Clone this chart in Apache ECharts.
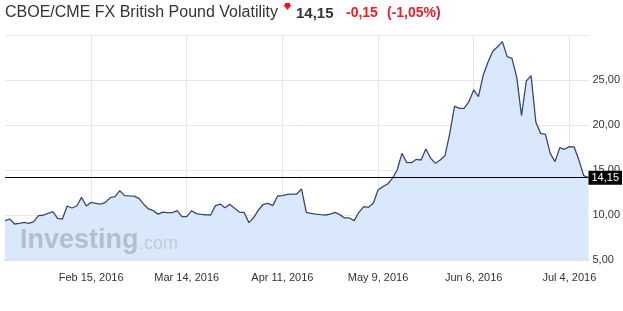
<!DOCTYPE html>
<html><head><meta charset="utf-8">
<script src="https://cdn.jsdelivr.net/npm/echarts@6/dist/echarts.min.js"></script>
<style>html,body{margin:0;padding:0;background:#fff}#c{width:623px;height:311px}</style>
</head><body><div id="c"></div>
<script>
const startDate = '2016-01-20';
const endDate = '2016-07-08';
const tickLabels = ['Feb 15, 2016','Mar 14, 2016','Apr 11, 2016','May 9, 2016','Jun 6, 2016','Jul 4, 2016'];
const values = [
  9.37, 9.55, 9.0, 9.07, 9.18, 9.07, 9.26, 9.93, 9.97, 10.19,
  10.37, 9.63, 9.55, 11.0, 10.78, 11.0, 11.96, 11.0, 11.4, 11.3,
  11.2, 11.4, 11.92, 12.04, 12.7, 12.15, 12.12, 12.1, 11.85, 11.2,
  10.67, 10.48, 10.1, 10.33, 10.26, 10.26, 10.48, 9.81, 9.81, 10.48,
  10.15, 10.07, 10.03, 10.0, 11.04, 11.22, 10.81, 11.19, 10.74, 10.33,
  10.28, 9.15, 9.7, 10.56, 11.19, 11.3, 11.04, 12.11, 12.15, 12.3,
  12.33, 12.33, 12.89, 10.3, 10.19, 10.1, 10.04, 10.0, 10.1, 10.3,
  10.04, 9.67, 9.67, 9.37, 10.3, 10.93, 10.85, 11.3, 12.78, 13.15,
  13.44, 14.07, 15.0, 16.85, 15.81, 15.81, 16.19, 16.11, 17.33, 16.3,
  15.74, 16.11, 16.59, 19.07, 22.1, 21.85, 21.85, 22.59, 23.9, 23.15,
  25.56, 27.0, 28.2, 28.7, 29.26, 27.6, 27.4, 25.3, 21.04, 24.89,
  25.48, 20.3, 19.07, 18.95, 16.85, 15.93, 17.48, 17.3, 17.59, 17.56,
  16.11, 14.37, 14.15
];
const lastValue = 14.15;
const change = '-0,15';
const changePct = '(-1,05%)';
const titleText = 'CBOE/CME FX British Pound Volatility';
const yMin = 5, yMax = 30, yStep = 5;

const MONTHS = ['Jan','Feb','Mar','Apr','May','Jun','Jul','Aug','Sep','Oct','Nov','Dec'];
function weekdays(s, e) {
  const out = [];
  const d = new Date(s + 'T00:00:00Z');
  const end = new Date(e + 'T00:00:00Z');
  while (d <= end) {
    const wd = d.getUTCDay();
    if (wd !== 0 && wd !== 6) out.push(MONTHS[d.getUTCMonth()] + ' ' + d.getUTCDate() + ', ' + d.getUTCFullYear());
    d.setUTCDate(d.getUTCDate() + 1);
  }
  return out;
}
const categories = weekdays(startDate, endDate);
const fmt = v => v.toFixed(2).replace('.', ',');
const showTick = (i, v) => tickLabels.indexOf(v) >= 0;
const FONT = '"Liberation Sans", Arial, sans-serif';

const chart = echarts.init(document.getElementById('c'), null, {renderer: 'canvas'});
chart.setOption({
  animation: false,
  backgroundColor: '#fff',
  textStyle: {fontFamily: FONT},
  grid: {left: 5, right: 34, top: 35, bottom: 51, containLabel: false},
  xAxis: {
    type: 'category', data: categories, boundaryGap: false,
    axisTick: {show: false},
    axisLine: {show: true, lineStyle: {color: '#dfe3e8', width: 2}},
    axisLabel: {interval: showTick, color: '#333', fontSize: 11, margin: 12, fontFamily: FONT},
    splitLine: {show: true, interval: showTick, lineStyle: {color: '#e6e6e6', width: 1}}
  },
  yAxis: {
    type: 'value', position: 'right', min: yMin, max: yMax, interval: yStep,
    axisLine: {show: false}, axisTick: {show: false},
    axisLabel: {formatter: v => (v === yMax ? '' : fmt(v)), color: '#333', fontSize: 11, margin: 4, fontFamily: FONT},
    splitLine: {show: true, lineStyle: {color: '#e6e6e6', width: 1}}
  },
  series: [{
    type: 'line', data: values, symbol: 'none', z: 3,
    lineStyle: {color: '#3d4775', width: 1.3},
    areaStyle: {color: '#d9e9fb', opacity: 1, origin: 'start'},
    markLine: {
      symbol: 'none', silent: true, animation: false,
      lineStyle: {color: '#000', width: 1, type: 'solid'},
      label: {position: 'end', distance: 0, formatter: () => fmt(lastValue), backgroundColor: '#000', color: '#fff',
              padding: [2, 3, 1, 3], fontSize: 11, fontFamily: FONT},
      emphasis: {disabled: true},
      data: [{yAxis: lastValue}]
    }
  }],
  graphic: [
    {type: 'text', left: 5, top: 5, z: 10, style: {text: titleText, font: '16px ' + FONT, fill: '#333'}},
    {type: 'polygon', z: 10, shape: {points: [[285,3],[290,3],[290,5],[291.5,5],[287.5,10],[283.5,5],[285,5]]}, style: {fill: '#e8141c'}},
    {type: 'text', left: 296, top: 6, z: 10, style: {text: fmt(lastValue), font: 'bold 15px ' + FONT, fill: '#333'}},
    {type: 'text', left: 346, top: 6, z: 10, style: {text: change, font: 'bold 14px ' + FONT, fill: '#ee1c25'}},
    {type: 'text', left: 387, top: 6, z: 10, style: {text: changePct, font: 'bold 14px ' + FONT, fill: '#ee1c25'}},
    {type: 'text', left: 20, top: 227, z: 10, style: {text: 'Investing', font: 'bold 27px ' + FONT, fill: 'rgba(140,150,162,0.5)'}},
    {type: 'text', left: 139, top: 235, z: 10, style: {text: '.com', font: '18px ' + FONT, fill: 'rgba(140,150,162,0.35)'}}
  ]
});
</script>
</body></html>
